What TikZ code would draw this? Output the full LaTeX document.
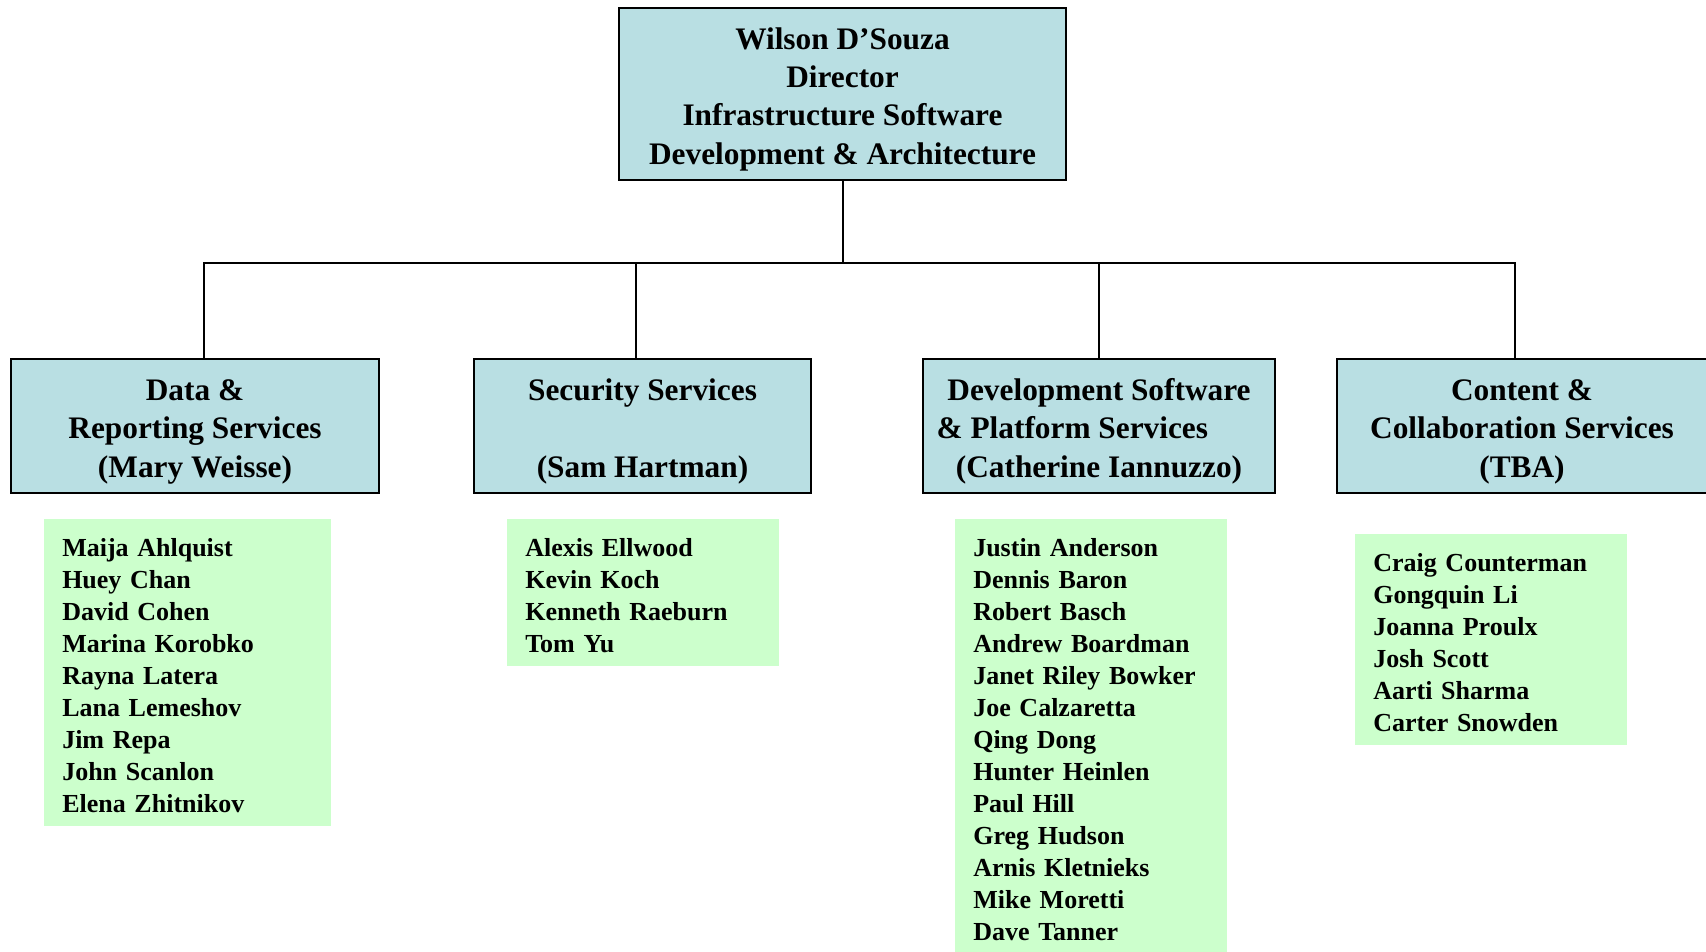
\documentclass[tikz,border=0pt]{standalone}
\usepackage{fontspec}
\setmainfont{Liberation Serif}
\usetikzlibrary{positioning}
\definecolor{headblue}{RGB}{185,223,227}
\definecolor{staffgreen}{RGB}{204,255,204}
\newcommand\headstrut{\rule{0pt}{24pt}}

\begin{document}
\begin{tikzpicture}[
    x=0.75pt, y=-0.75pt,                    % <-- one unit = one pixel
    headbox/.style  = {rectangle, draw, line width=1.5pt, fill=headblue,
                       align=center, inner sep=0pt, minimum height=100.5pt,
                       font=\fontsize{23.5}{28.8}\selectfont\bfseries},
    staffbox/.style = {rectangle, fill=staffgreen, anchor=north west,
                       align=left, inner xsep=13.5pt, inner ysep=0pt,
                       text width=177pt,
                       execute at begin node=\rule{0pt}{27.75pt},
                       execute at end node=\rule[-10.5pt]{0pt}{0pt},
                       font=\fontsize{19.5}{24}\selectfont\bfseries},
    link/.style     = {line width=1.5pt}
  ]
  \useasboundingbox (0,0) rectangle (1706,951);

  % top
  \node[headbox, minimum width=335.25pt, minimum height=129pt] (director)
       at (842.5,94)
       {\headstrut Wilson D’Souza\\Director\\Infrastructure Software\\Development \& Architecture};

  % groups
  \node[headbox, minimum width=276pt] (data) at (195,426)
       {\headstrut Data \&\\Reporting Services\\(Mary Weisse)};
  \node[headbox, minimum width=252.75pt] (security) at (642.5,426)
       {\headstrut Security Services\\~\\(Sam Hartman)};
  \node[headbox, minimum width=264pt] (devsw) at (1099,426)
       {\headstrut Development Software\\\& Platform Services\rule{40pt}{0pt}\\(Catherine Iannuzzo)};
  \node[headbox, minimum width=277.5pt] (content) at (1522,426)
       {\headstrut Content \&\\Collaboration Services\\(TBA)};

  % staff lists
  \node[staffbox, text width=188.25pt] (datastaff) at (44,519)
       {Maija Ahlquist\\Huey Chan\\David Cohen\\Marina Korobko\\Rayna Latera\\
        Lana Lemeshov\\Jim Repa\\John Scanlon\\Elena Zhitnikov};
  \node[staffbox] (securitystaff) at (507,519)
       {Alexis Ellwood\\Kevin Koch\\Kenneth Raeburn\\Tom Yu};
  \node[staffbox] (devswstaff) at (955,519)
       {Justin Anderson\\Dennis Baron\\Robert Basch\\Andrew Boardman\\
        Janet Riley Bowker\\Joe Calzaretta\\Qing Dong\\Hunter Heinlen\\
        Paul Hill\\Greg Hudson\\Arnis Kletnieks\\Mike Moretti\\Dave Tanner};
  \node[staffbox] (contentstaff) at (1355,534)
       {Craig Counterman\\Gongquin Li\\Joanna Proulx\\Josh Scott\\
        Aarti Sharma\\Carter Snowden};

  % lines
  \draw[link] (director.south) -- ++(0,82) coordinate (hub);
  \foreach \n/\dx in {data/6.5,security/-4.9,devsw/0,content/-4.9}
    \draw[link] (hub) -| ([xshift=\dx pt]\n.north);

\end{tikzpicture}
\end{document}
